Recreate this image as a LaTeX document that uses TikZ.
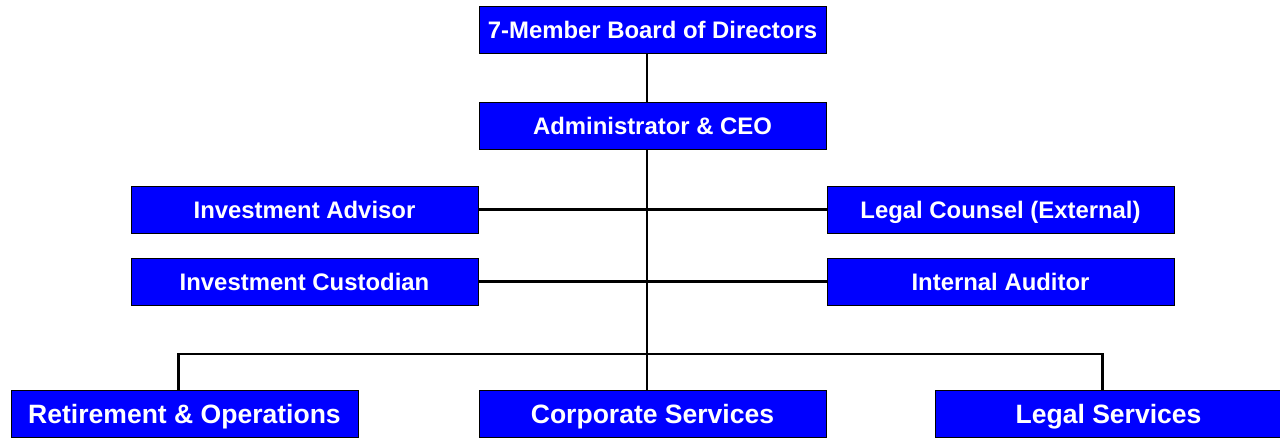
\documentclass[tikz,border=0pt]{standalone}
\usepackage{tikz}
\usepackage{fontspec}
\setmainfont{Liberation Sans}
\usepackage[rgb]{xcolor}

\tikzset{
	orgbox/.style={draw=black, thin, fill=blue, text=white, inner sep=0pt,
		minimum width=6.94cm, minimum height=0.94cm,
		text height=9.8pt, text depth=0pt,
		font=\fontsize{13.6}{16}\selectfont\bfseries},
	unitbox/.style={orgbox, text height=10.8pt,
		font=\fontsize{15.1}{18}\selectfont\bfseries},
	orgline/.style={black, line width=1.2pt}
}

\begin{document}
\begin{tikzpicture}[x=0.02cm, y=-0.02cm]
	\clip (0,0) rectangle (1280,437);
	\coordinate (junc) at (647,354);

	\node[orgbox] (board) at (652.5,29.5) {7-Member Board of Directors};
	\node[orgbox] (admin) at (652.5,125.5) {Administrator \& CEO};
	\node[orgbox] (advisor) at (304.5,209.5) {Investment Advisor};
	\node[orgbox] (counsel) at (1000.5,209.5) {Legal Counsel (External)};
	\node[orgbox] (custodian) at (304.5,281.5) {Investment Custodian};
	\node[orgbox] (auditor) at (1000.5,281.5) {Internal Auditor};
	\node[unitbox] (retire) at (184.5,413.5) {Retirement \& Operations};
	\node[unitbox] (corporate) at (652.5,413.5) {Corporate Services};
	\node[unitbox] (legal) at (1108.5,413.5) {Legal Services};

	\draw[orgline] (board.south -| junc) -- (admin.north -| junc);
	\draw[orgline] (admin.south -| junc) -- (junc);
	\draw[orgline] (advisor) -- (counsel);
	\draw[orgline] (custodian) -- (auditor);
	\draw[orgline] (junc) -- (corporate.north -| junc);
	\draw[orgline] ([xshift=-0.12cm]retire.north) |- (junc) -| ([xshift=-0.12cm]legal.north);

\end{tikzpicture}
\end{document}
